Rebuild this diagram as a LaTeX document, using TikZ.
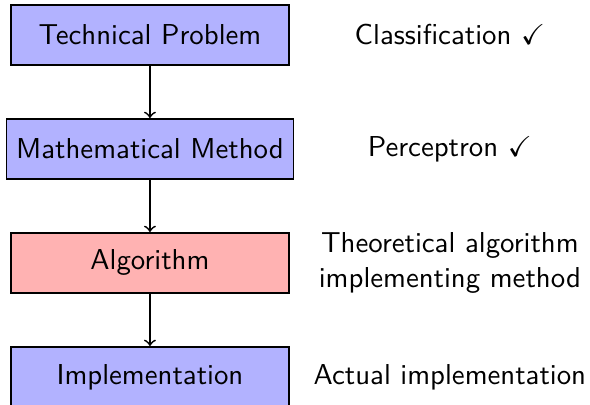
\documentclass[tikz,border=0pt]{standalone}
\usepackage{amssymb}
\usepackage{tikz}
\usetikzlibrary{arrows,positioning}
\renewcommand{\familydefault}{\sfdefault}

\begin{document}
\begin{tikzpicture}[->,>=to, node distance=0.64cm, semithick,
    every node/.style={font=\sffamily},
    stage/.style={draw=black,fill=blue!30,minimum width=3.4cm,minimum height=0.73cm},
    focus/.style={stage,fill=red!30},
    note/.style={align=center}
    ]
\useasboundingbox (0,0) rectangle (7.2,4.94);
\node[stage] (tp)                  at (1.83,4.515) {Technical Problem};
\node[stage] (mm) [below=of tp]    {Mathematical Method};
\node[focus] (alg) [below=of mm]   {Algorithm};
\node[stage] (impl) [below=of alg] {Implementation};
\node[note] (cls)  at ([xshift=3.66cm]tp)   {Classification $\checkmark$};
\node[note] (perc) at ([xshift=3.66cm]mm)   {Perceptron $\checkmark$};
\node[note] (theo) at ([xshift=3.66cm]alg)  {Theoretical algorithm\\implementing method};
\node[note] (act)  at ([xshift=3.66cm]impl) {Actual implementation};
\path
(tp)  edge (mm)
(mm)  edge (alg)
(alg) edge (impl)
;
\end{tikzpicture}
\end{document}
